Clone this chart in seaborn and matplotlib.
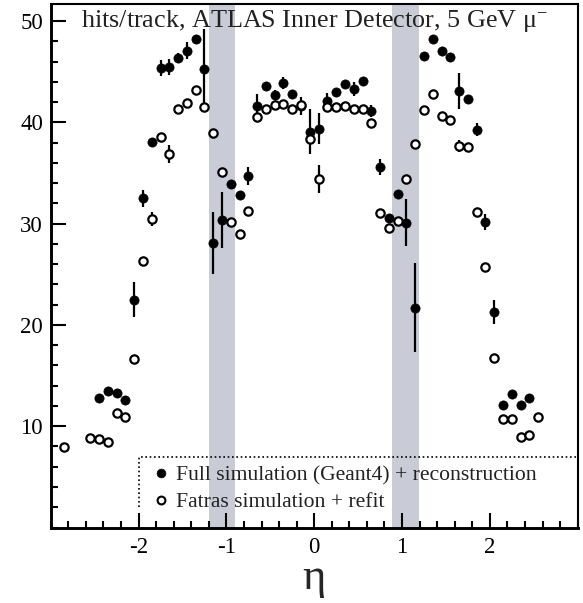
import matplotlib
matplotlib.use("Agg")
import matplotlib.pyplot as plt
from matplotlib.lines import Line2D
from matplotlib.ticker import FixedLocator, MultipleLocator
import numpy as np
import pandas as pd
import seaborn as sns

# ---------------- data ----------------
eta_full = [-2.45, -2.35, -2.25, -2.15, -2.05, -1.95, -1.85, -1.75, -1.65, -1.55,
            -1.45, -1.35, -1.25, -1.15, -1.05, -0.95, -0.85, -0.75, -0.65, -0.55,
            -0.45, -0.35, -0.25, -0.15, -0.05, 0.05, 0.15, 0.25, 0.35, 0.45,
            0.55, 0.65, 0.75, 0.85, 0.95, 1.05, 1.15, 1.25, 1.35, 1.45,
            1.55, 1.65, 1.75, 1.85, 1.95, 2.05, 2.15, 2.25, 2.35, 2.45]
hits_full = [12.8, 13.45, 13.3, 12.6, 22.5, 32.5, 38.1, 45.4, 45.5, 46.4,
             47.1, 48.2, 45.3, 28.1, 30.4, 33.9, 32.8, 34.75, 41.6, 43.6,
             42.7, 43.9, 42.8, 41.6, 39.1, 39.4, 42.1, 43.0, 43.8, 43.3,
             44.1, 41.1, 35.6, 30.6, 32.9, 30.1, 21.7, 46.6, 48.2, 47.05,
             46.5, 43.1, 42.35, 39.3, 30.2, 21.3, 12.1, 13.2, 12.1, 12.8]
err_full = [0.3, 0.3, 0.3, 0.3, 1.7, 0.8, 0.4, 0.8, 0.8, 0.5,
            0.8, 0.4, 3.9, 3.1, 2.75, 0.3, 0.3, 0.9, 1.2, 0.4,
            0.5, 0.6, 0.3, 0.9, 2.2, 1.55, 0.8, 0.3, 0.3, 0.7,
            0.3, 0.6, 0.8, 0.3, 0.3, 2.3, 4.4, 0.3, 0.3, 0.3,
            0.3, 1.8, 0.3, 0.6, 0.8, 1.2, 0.3, 0.3, 0.3, 0.3]

eta_fatras = [-2.85, -2.55, -2.45, -2.35, -2.25, -2.15, -2.05, -1.95, -1.85, -1.75,
              -1.65, -1.55, -1.45, -1.35, -1.25, -1.15, -1.05, -0.95, -0.85, -0.75,
              -0.65, -0.55, -0.45, -0.35, -0.25, -0.15, -0.05, 0.05, 0.15, 0.25,
              0.35, 0.45, 0.55, 0.65, 0.75, 0.85, 0.95, 1.05, 1.15, 1.25,
              1.35, 1.45, 1.55, 1.65, 1.75, 1.85, 1.95, 2.05, 2.15, 2.25,
              2.35, 2.45, 2.55]
hits_fatras = [7.96, 8.8, 8.75, 8.42, 11.35, 10.9, 16.6, 26.3, 30.45, 38.6,
               36.9, 41.3, 41.9, 43.2, 41.5, 39.0, 35.1, 30.2, 28.95, 31.3,
               40.5, 41.3, 41.75, 41.8, 41.35, 41.75, 38.4, 34.4, 41.5, 41.55,
               41.6, 41.3, 41.3, 39.9, 31.1, 29.6, 30.3, 34.4, 37.9, 41.25,
               42.8, 40.6, 40.2, 37.7, 37.55, 31.2, 25.7, 16.7, 10.7, 10.7,
               8.9, 9.1, 10.9]
err_fatras = [0.2, 0.2, 0.2, 0.2, 0.2, 0.2, 0.2, 0.2, 0.7, 0.2,
              0.9, 0.2, 0.2, 0.2, 0.2, 0.2, 0.2, 0.2, 0.2, 0.2,
              0.2, 0.2, 0.2, 0.2, 0.2, 0.2, 0.2, 1.4, 0.2, 0.2,
              0.2, 0.2, 0.2, 0.2, 0.2, 0.2, 0.2, 0.2, 0.2, 0.2,
              0.2, 0.2, 0.2, 0.6, 0.2, 0.2, 0.2, 0.2, 0.2, 0.2,
              0.2, 0.2, 0.2]

crack_lo = [-1.20, 0.885]
crack_hi = [-0.905, 1.19]

x_major = [-2, -1, 0, 1, 2]
y_major = [10, 20, 30, 40, 50]

title = r"hits/track, ATLAS Inner Detector, 5 GeV $\mathregular{μ^{-}}$"
xlabel = "η"
label_full = "Full simulation (Geant4) + reconstruction"
label_fatras = "Fatras simulation + refit"

# ---------------- style ----------------
sns.set_theme(style="ticks")
plt.rcParams["font.family"] = ["Liberation Serif", "DejaVu Serif"]
plt.rcParams["mathtext.fontset"] = "custom"
plt.rcParams["mathtext.rm"] = "Liberation Serif"
plt.rcParams["axes.unicode_minus"] = False

df_full = pd.DataFrame({"eta": eta_full, "hits": hits_full, "err": err_full})
df_fat = pd.DataFrame({"eta": eta_fatras, "hits": hits_fatras, "err": err_fatras})

fig = plt.figure(figsize=(5.83, 6.03), dpi=100)
ax = fig.add_axes([0.0870, 0.1252, 0.9039, 0.8682])

for lo, hi in zip(crack_lo, crack_hi):
    ax.axvspan(lo, hi, color="#c9ccd6", lw=0, zorder=0)

ax.errorbar(df_full["eta"], df_full["hits"], yerr=df_full["err"], fmt="none",
            ecolor="black", elinewidth=1.6, capsize=0, zorder=2)
ax.errorbar(df_fat["eta"], df_fat["hits"], yerr=df_fat["err"], fmt="none",
            ecolor="black", elinewidth=1.6, capsize=0, zorder=2)

sns.scatterplot(data=df_full, x="eta", y="hits", ax=ax, color="black",
                s=44, edgecolor="black", linewidth=0.5, marker="o",
                zorder=3, legend=False)
sns.scatterplot(data=df_fat, x="eta", y="hits", ax=ax, color="black",
                s=36, edgecolor="black", linewidth=1.6, marker="o",
                zorder=4, legend=False)
ax.collections[-1].set_facecolor("white")

ax.set_xlim(-3, 3)
ax.set_ylim(0, 51.7)
ax.xaxis.set_major_locator(FixedLocator(x_major))
ax.xaxis.set_minor_locator(MultipleLocator(0.2))
ax.yaxis.set_major_locator(FixedLocator(y_major))
ax.yaxis.set_minor_locator(MultipleLocator(2))
ax.set_xticklabels([str(v) for v in x_major])
ax.set_yticklabels([str(v) for v in y_major])

ax.tick_params(axis="both", which="both", direction="in", colors="black",
               top=False, right=False, width=1.5)
ax.tick_params(axis="both", which="major", length=10.5, labelsize=16.5)
ax.tick_params(axis="both", which="minor", length=5.2)
ax.tick_params(axis="x", which="major", pad=7)
ax.tick_params(axis="y", which="major", pad=5.5)

for side in ["left", "bottom"]:
    ax.spines[side].set_linewidth(2.1)
    ax.spines[side].set_color("black")
for side in ["top", "right"]:
    ax.spines[side].set_linewidth(1.5)
    ax.spines[side].set_color("black")

ax.set_xlabel(xlabel, fontsize=32)
ax.xaxis.label.set_va("baseline")
ax.xaxis.set_label_coords(0.5, -0.1167)
ax.set_ylabel("")

ax.text(0.5, 0.9555, title, transform=ax.transAxes, ha="center",
        va="baseline", fontsize=18.8, color="#222222")

# legend frame (dotted top and left edges)
ax.plot([0.1677, 0.1677, 1.0], [0.040, 0.134, 0.134], transform=ax.transAxes,
        color="black", lw=1.2, ls=(0, (1, 1.6)), clip_on=False, zorder=5)

handles = [
    Line2D([], [], ls="none", marker="o", markersize=6.3, color="black",
           markeredgewidth=0.5),
    Line2D([], [], ls="none", marker="o", markersize=5.6, color="black",
           markerfacecolor="white", markeredgewidth=1.5),
]
leg = ax.legend(handles, [label_full, label_fatras], loc="upper left",
                bbox_to_anchor=(0.1896, 0.119), frameon=False, fontsize=15.6,
                borderpad=0, borderaxespad=0, handlelength=0.95,
                handletextpad=0.22, labelspacing=0.32)
for t in leg.get_texts():
    t.set_color("#222222")

fig.savefig("out.png", dpi=100)
